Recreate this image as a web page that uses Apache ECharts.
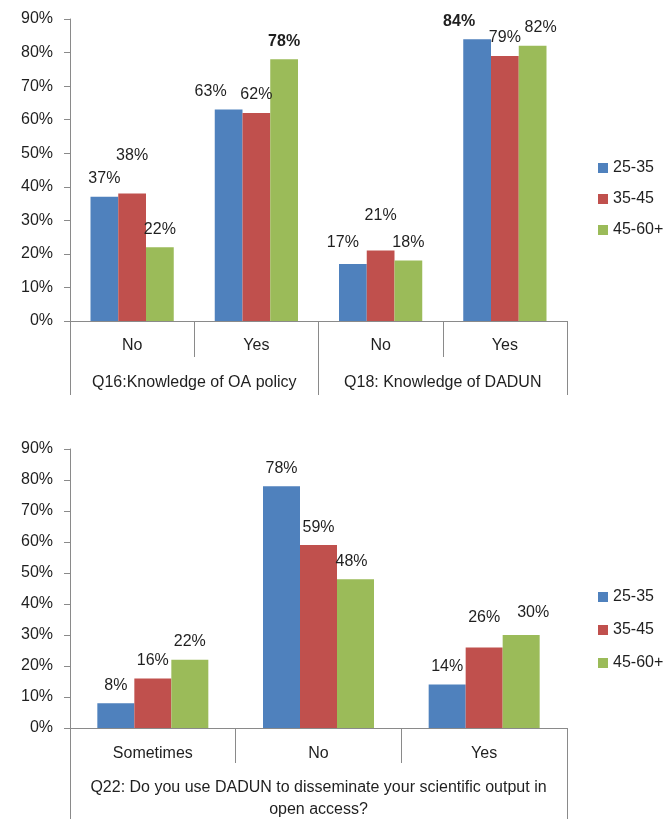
<!DOCTYPE html>
<html>
<head>
<meta charset="utf-8">
<script src="https://cdn.jsdelivr.net/npm/echarts@6/dist/echarts.min.js"></script>
<style>
  html, body { margin: 0; padding: 0; background: #fff; }
  #main { width: 664px; height: 819px; }
</style>
</head>
<body>
<div id="main"></div>
<script>
// age groups
const ageGroups = ['25-35', '35-45', '45-60+'];

// top chart: Q16 and Q18
const topCategories = ['No', 'Yes', 'No', 'Yes'];
const topGroups = ['Q16:Knowledge of OA policy', 'Q18: Knowledge of DADUN'];
const top2535 = [37, 63, 17, 84];
const top3545 = [38, 62, 21, 79];
const top4560 = [22, 78, 18, 82];

// bottom chart: Q22
const bottomCategories = ['Sometimes', 'No', 'Yes'];
const bottomGroups = ['Q22: Do you use DADUN to disseminate your scientific output in\nopen access?'];
const bottom2535 = [8, 78, 14];
const bottom3545 = [16, 59, 26];
const bottom4560 = [22, 48, 30];

const yTicks = [0, 10, 20, 30, 40, 50, 60, 70, 80, 90];

const colors = ['#4F81BD', '#C0504D', '#9BBB59'];
const font = 'Liberation Sans';
const fontSize = 16;
const textColor = '#1f1f1f';
const axisColor = '#8a8a8a';

// labels shown bold in the original (seriesIndex-dataIndex)
const boldTop = { '2-1': true, '0-3': true };
// label nudges like the excel layout, keyed chart-series-point
const labelNudge = {
  't-1-0': [0, -20], 't-0-1': [-18, 0], 't-0-2': [-10, -3], 't-1-2': [0, -17],
  't-0-3': [-18, 0], 't-2-3': [8, 0],
  'b-1-2': [0, -12], 'b-2-2': [12, -4], 'b-2-1': [-4, 0]
};

const chart = echarts.init(document.getElementById('main'));

function valueAxis(gridIndex) {
  return {
    type: 'value',
    gridIndex: gridIndex,
    min: yTicks[0],
    max: yTicks[yTicks.length - 1],
    interval: 10,
    axisLine: { show: true, lineStyle: { color: axisColor } },
    axisTick: { show: true, length: 6, lineStyle: { color: axisColor } },
    splitLine: { show: false },
    axisLabel: { formatter: '{value}%', color: textColor, fontFamily: font, fontSize: fontSize, margin: 17 }
  };
}

function catAxis(gridIndex, data, tickLen, offset, showLine, margin) {
  return {
    type: 'category',
    gridIndex: gridIndex,
    position: 'bottom',
    offset: offset,
    data: data,
    axisLine: { show: showLine, lineStyle: { color: axisColor } },
    axisTick: { show: true, interval: 0, length: tickLen, lineStyle: { color: axisColor } },
    axisLabel: { interval: 0, color: textColor, fontFamily: font, fontSize: fontSize, margin: margin, lineHeight: 22 },
    splitLine: { show: false }
  };
}

function barSeries(name, data, idx, xi, yi, key, bold) {
  return {
    name: name,
    type: 'bar',
    xAxisIndex: xi,
    yAxisIndex: yi,
    barGap: 0,
    barCategoryGap: '33%',
    itemStyle: { color: colors[idx] },
    data: data.map(function (v, i) {
      const nudge = labelNudge[key + '-' + idx + '-' + i];
      return nudge ? { value: v, label: { offset: nudge } } : v;
    }),
    label: {
      show: true,
      position: 'top',
      distance: 10,
      color: textColor,
      fontFamily: font,
      fontSize: fontSize,
      formatter: function (p) {
        const t = p.value + '%';
        return bold && bold[idx + '-' + p.dataIndex] ? '{b|' + t + '}' : t;
      },
      rich: { b: { fontWeight: 'bold', fontFamily: font, fontSize: fontSize, color: textColor } }
    }
  };
}

function legend(top, gap) {
  return {
    orient: 'vertical',
    left: 593,
    top: top,
    icon: 'rect',
    itemWidth: 10,
    itemHeight: 10,
    itemGap: gap,
    data: ageGroups,
    textStyle: { color: textColor, fontFamily: font, fontSize: fontSize }
  };
}

const option = {
  animation: false,
  legend: [legend(155, 15), legend(584, 17)],
  grid: [
    { left: 70, top: 19, width: 497, height: 302, outerBoundsMode: 'none' },
    { left: 70, top: 449, width: 497, height: 279, outerBoundsMode: 'none' }
  ],
  xAxis: [
    catAxis(0, topCategories, 36, 0, true, 14),
    catAxis(0, topGroups, 38, 36, false, 15),
    catAxis(1, bottomCategories, 35, 0, true, 15),
    catAxis(1, bottomGroups, 56, 35, false, 14)
  ],
  yAxis: [valueAxis(0), valueAxis(1)],
  series: [
    barSeries(ageGroups[0], top2535, 0, 0, 0, 't', boldTop),
    barSeries(ageGroups[1], top3545, 1, 0, 0, 't', boldTop),
    barSeries(ageGroups[2], top4560, 2, 0, 0, 't', boldTop),
    barSeries(ageGroups[0], bottom2535, 0, 2, 1, 'b'),
    barSeries(ageGroups[1], bottom3545, 1, 2, 1, 'b'),
    barSeries(ageGroups[2], bottom4560, 2, 2, 1, 'b')
  ]
};

chart.setOption(option);
</script>
</body>
</html>
